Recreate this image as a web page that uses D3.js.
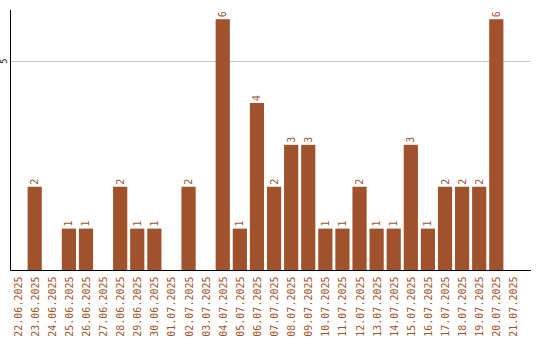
<!DOCTYPE html>
<html>
<head>
<meta charset="utf-8">
<script src="https://cdn.jsdelivr.net/npm/d3@7"></script>
<style>
  body { margin: 0; background: #fff; }
</style>
</head>
<body>
<div id="chart"></div>
<script>
const dates = ['22.06.2025', '23.06.2025', '24.06.2025', '25.06.2025', '26.06.2025',
  '27.06.2025', '28.06.2025', '29.06.2025', '30.06.2025', '01.07.2025',
  '02.07.2025', '03.07.2025', '04.07.2025', '05.07.2025', '06.07.2025',
  '07.07.2025', '08.07.2025', '09.07.2025', '10.07.2025', '11.07.2025',
  '12.07.2025', '13.07.2025', '14.07.2025', '15.07.2025', '16.07.2025',
  '17.07.2025', '18.07.2025', '19.07.2025', '20.07.2025', '21.07.2025'];
const counts = [0, 2, 0, 1, 1, 0, 2, 1, 1, 0, 2, 0, 6, 1, 4, 2, 3, 3, 1, 1, 2, 1, 1, 3, 1, 2, 2, 2, 6, 0];
const yTicks = [5];

const w = 540;
const h = 340;
const left = 10.5;
const bottom = 270.5;
const color = '#a0522d';
const font = 'DejaVu Sans Mono, monospace';

const data = dates.map(function(d, i) { return { date: d, value: counts[i] }; });

const svg = d3.select('#chart')
  .append('svg')
  .attr('width', w)
  .attr('height', h);

const xScale = d3.scaleBand()
  .domain(dates)
  .range([left, left + 17 * dates.length])
  .paddingInner(0.17)
  .paddingOuter(0);

const yScale = d3.scaleLinear()
  .domain([0, 6.22])
  .range([bottom, 10]);

// gridline
svg.selectAll('line.grid')
  .data(yTicks)
  .enter()
  .append('line')
  .attr('class', 'grid')
  .attr('x1', left)
  .attr('x2', 531)
  .attr('y1', function(d) { return Math.round(yScale(d)) + 0.5; })
  .attr('y2', function(d) { return Math.round(yScale(d)) + 0.5; })
  .attr('stroke', '#c8c8c8');

svg.selectAll('text.ytick')
  .data(yTicks)
  .enter()
  .append('text')
  .attr('class', 'ytick')
  .text(function(d) { return d; })
  .attr('transform', function(d) {
    return 'translate(7,' + Math.round(yScale(d)) + ') rotate(-90)';
  })
  .attr('font-family', font)
  .attr('font-size', '8px')
  .attr('text-anchor', 'middle')
  .attr('fill', '#000');

svg.selectAll('rect')
  .data(data)
  .enter()
  .append('rect')
  .attr('x', function(d) { return xScale(d.date); })
  .attr('y', function(d) { return yScale(d.value); })
  .attr('width', xScale.bandwidth())
  .attr('height', function(d) { return bottom - yScale(d.value); })
  .attr('fill', color);

// value labels
svg.selectAll('text.val')
  .data(data.filter(function(d) { return d.value > 0; }))
  .enter()
  .append('text')
  .attr('class', 'val')
  .text(function(d) { return d.value; })
  .attr('transform', function(d) {
    return 'translate(' + (xScale(d.date) + xScale.bandwidth() / 2 + 3.5) + ',' + (yScale(d.value) - 2) + ') rotate(-90)';
  })
  .attr('font-family', font)
  .attr('font-size', '10px')
  .attr('text-anchor', 'start')
  .attr('fill', color);

// axes lines
svg.append('line')
  .attr('x1', left).attr('x2', left)
  .attr('y1', 10).attr('y2', bottom)
  .attr('stroke', '#000');

svg.append('line')
  .attr('x1', left).attr('x2', 531)
  .attr('y1', bottom).attr('y2', bottom)
  .attr('stroke', '#000');

// date labels
svg.selectAll('text.date')
  .data(dates)
  .enter()
  .append('text')
  .attr('class', 'date')
  .text(function(d) { return d; })
  .attr('transform', function(d) {
    return 'translate(' + (xScale(d) + xScale.bandwidth() / 2 + 4) + ',' + (bottom + 6) + ') rotate(-90)';
  })
  .attr('font-family', font)
  .attr('font-size', '10px')
  .attr('text-anchor', 'end')
  .attr('fill', color);
</script>
</body>
</html>
